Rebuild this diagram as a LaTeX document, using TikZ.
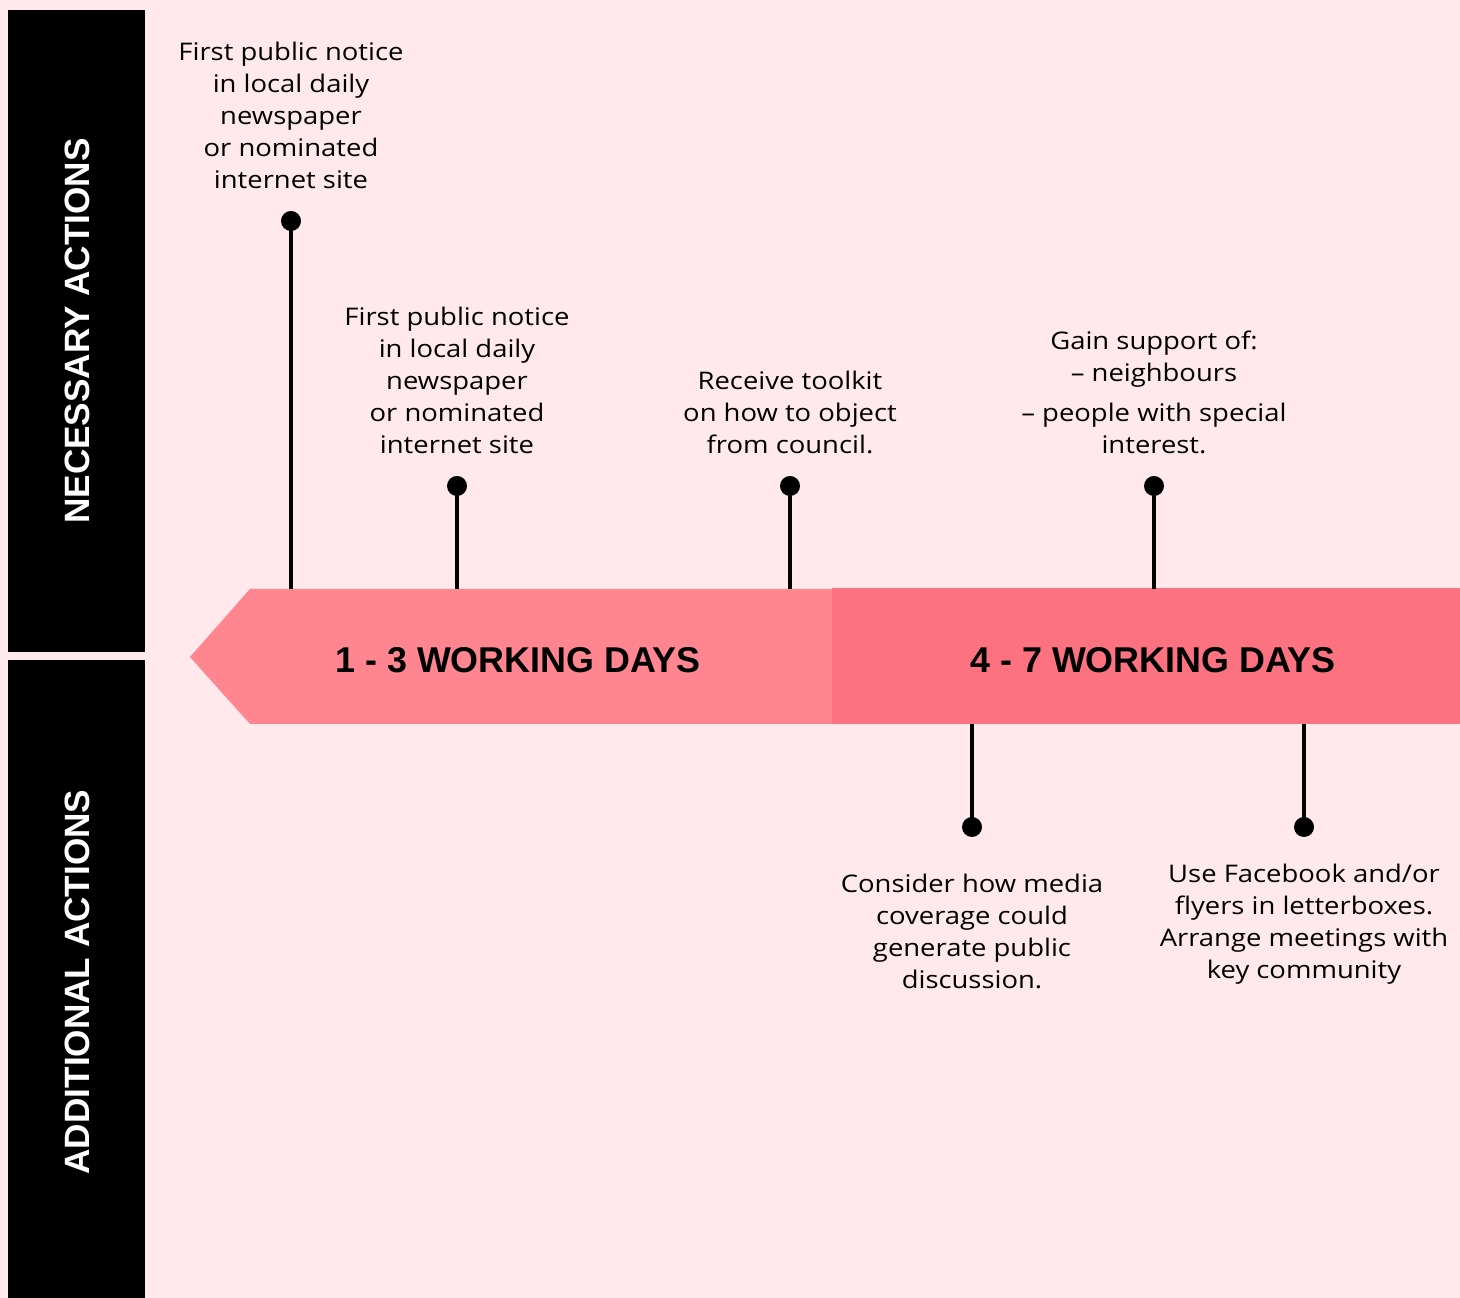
\documentclass[tikz,border=0pt]{standalone}
\usepackage{fontspec}
\setmainfont{Open Sans}[FakeStretch=1.13]
\newfontfamily\headfont{Liberation Sans}
\usetikzlibrary{positioning}

\definecolor{bgpink}{HTML}{FFE9EC}
\definecolor{bandlight}{HTML}{FF8591}
\definecolor{banddark}{HTML}{FC7280}

\begin{document}
\begin{tikzpicture}[x=0.01cm,y=-0.01cm,
  txt/.style={align=center,inner sep=0pt,font=\fontsize{6.9pt}{9.1pt}\selectfont},
  head/.style={font=\headfont\bfseries\fontsize{10.2pt}{12pt}\selectfont},
  side/.style={rotate=90,white,font=\headfont\bfseries\fontsize{10pt}{12pt}\selectfont},
  pin/.style={circle,fill=black,inner sep=0pt,minimum size=0.2cm},
  stem/.style={line width=1pt}]
\fill[bgpink] (0,0) rectangle (1460,1298);
\useasboundingbox (0,0) rectangle (1460,1298);

% side bars
\fill (8,10) rectangle (145,652);
\fill (8,660) rectangle (145,1298);
\node[side] (need) at (77,331) {NECESSARY ACTIONS};
\node[side] (extra) at (77,982) {ADDITIONAL ACTIONS};

% time band
\fill[bandlight] (190,657) -- (250,589) -- (832,589) -- (832,724) -- (250,724) -- cycle;
\fill[banddark] (832,588) rectangle (1460,724);
\node[head] (early) at (518,660) {1 - 3 WORKING DAYS};
\node[head] (late) at (1153,660) {4 - 7 WORKING DAYS};

% points on the band
\coordinate (b1) at (291,589);
\coordinate (b2) at (457,589);
\coordinate (b3) at (790,589);
\coordinate (b4) at (1154,589);
\coordinate (b5) at (972,724);
\coordinate (b6) at (1304,724);

% necessary actions
\node[pin] (p1) at (291,221) {};
\node[pin] (p2) at (457,486) {};
\node[pin] (p3) at (790,486) {};
\node[pin] (p4) at (1154,486) {};
\draw[stem] (p1.center) -- (b1);
\draw[stem] (p2.center) -- (b2);
\draw[stem] (p3.center) -- (b3);
\draw[stem] (p4.center) -- (b4);

\node[txt,above=0.21cm of p1] (t1) {First public notice\\in local daily\\newspaper\\or nominated\\internet site};
\node[txt,above=0.21cm of p2] (t2) {First public notice\\in local daily\\newspaper\\or nominated\\internet site};
\node[txt,above=0.21cm of p3] (t3) {Receive toolkit\\on how to object\\from council.};
\node[txt,above=0.21cm of p4] (t4) {Gain support of:\\– neighbours\\[2.2pt]– people with special\\interest.};

% additional actions
\node[pin] (p5) at (972,827) {};
\node[pin] (p6) at (1304,827) {};
\draw[stem] (p5.center) -- (b5);
\draw[stem] (p6.center) -- (b6);

\node[txt,below=0.36cm of p5] (t5) {Consider how media\\coverage could\\generate public\\discussion.};
\node[txt,below=0.26cm of p6] (t6) {Use Facebook and/or\\flyers in letterboxes.\\Arrange meetings with\\key community};
\end{tikzpicture}
\end{document}
